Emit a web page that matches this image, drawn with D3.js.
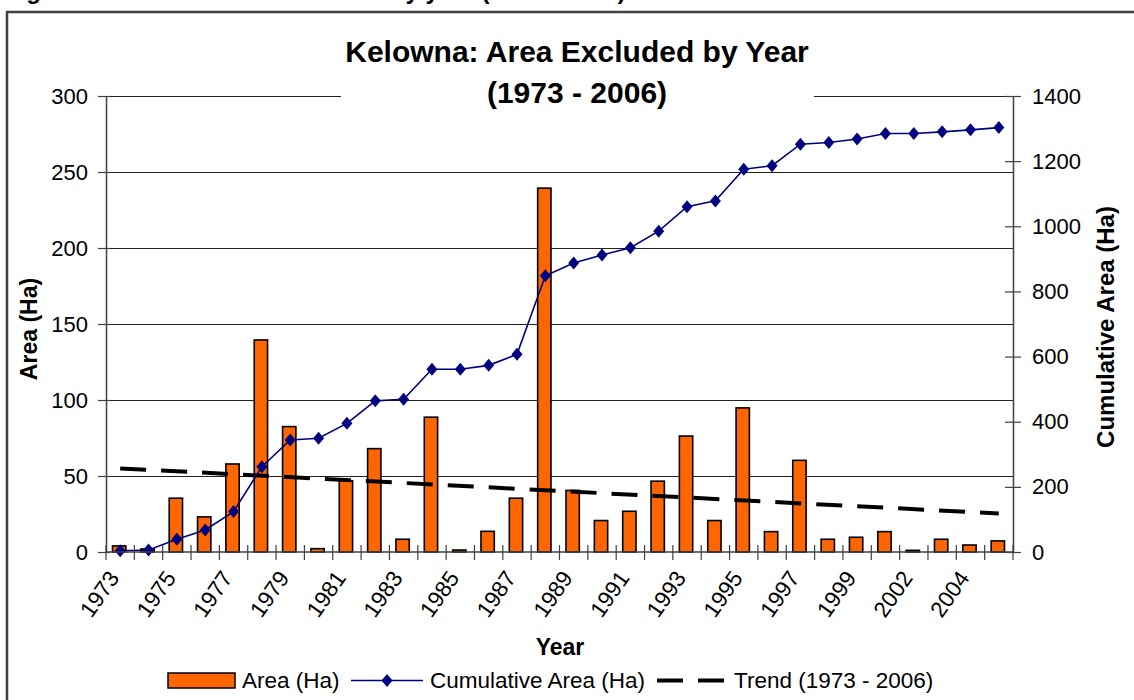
<!DOCTYPE html>
<html lang="en">
<head>
  <meta charset="UTF-8">
  <title>Kelowna: Area Excluded by Year</title>
  <script src="https://d3js.org/d3.v7.min.js"></script>
  <style>
    html, body { margin: 0; padding: 0; background: #fff; overflow: hidden; }
    svg text { font-family: "Liberation Sans", Arial, sans-serif; fill: #000; }
  </style>
</head>
<body>
  <div id="chart"></div>
  <script>
    // chart data
    const years = ["1973","1974","1975","1976","1977","1978","1979","1980","1981","1982",
                   "1983","1984","1985","1986","1987","1988","1989","1990","1991","1992",
                   "1993","1994","1995","1996","1997","1998","1999","2001","2002","2003",
                   "2004","2006"];
    const areaHa = [4, 2, 35.4, 23.1, 57.9, 139.5, 82.5, 2.2, 46.9, 68,
                    8.4, 88.7, 1.3, 13.6, 35.4, 239.4, 40.5, 20.7, 26.8, 46.6,
                    76.3, 20.7, 94.8, 13.4, 60.3, 8.4, 9.7, 13.4, 1.1, 8.4,
                    4.6, 7.3];
    const cumulativeHa = [4, 6, 39, 67.5, 124, 262, 344, 349, 395, 464,
                          469, 561, 561, 573, 607, 848, 887, 912, 934, 985,
                          1060, 1078, 1175, 1186, 1252, 1257, 1268, 1285, 1285, 1290,
                          1296, 1303];
    // trend line end points (first and last year)
    const trendYears = ["1973", "2006"];
    const trendHa = [55, 25.3];
    const leftTicks = [0, 50, 100, 150, 200, 250, 300];
    const rightTicks = [0, 200, 400, 600, 800, 1000, 1200, 1400];

    const width = 1134, height = 700;
    const plot = { left: 106, right: 1013, top: 96, bottom: 552 };

    const svg = d3.select("#chart").append("svg")
      .attr("width", width)
      .attr("height", height);

    // caption of the page, cut off by the top edge as in the figure
    svg.append("text")
      .attr("x", 5).attr("y", -1)
      .attr("font-size", "24px").attr("font-weight", "bold")
      .text("Figure 5: Kelowna Area Excluded by year (1973 - 2006)");

    // outer frame
    svg.append("rect")
      .attr("x", 7).attr("y", 12)
      .attr("width", 1200).attr("height", 800)
      .attr("fill", "none")
      .attr("stroke", "#404040")
      .attr("stroke-width", 2.5);

    const x = d3.scaleBand()
      .domain(years)
      .range([plot.left, plot.right]);

    const yLeft = d3.scaleLinear().domain([0, 300]).range([plot.bottom, plot.top]);
    const yRight = d3.scaleLinear().domain([0, 1400]).range([plot.bottom, plot.top]);

    // gridlines
    svg.append("g")
      .selectAll("line")
      .data(leftTicks.filter(d => d > 0))
      .join("line")
      .attr("x1", plot.left).attr("x2", plot.right)
      .attr("y1", d => yLeft(d) + 0.5).attr("y2", d => yLeft(d) + 0.5)
      .attr("stroke", "#222")
      .attr("stroke-width", 1);

    // title (white box hides the top gridline)
    svg.append("rect")
      .attr("x", 341).attr("y", 26)
      .attr("width", 473).attr("height", 86)
      .attr("fill", "#fff");
    svg.append("text")
      .attr("x", 577).attr("y", 62)
      .attr("text-anchor", "middle")
      .attr("font-size", "30px").attr("font-weight", "bold")
      .text("Kelowna: Area Excluded by Year");
    svg.append("text")
      .attr("x", 577).attr("y", 103)
      .attr("text-anchor", "middle")
      .attr("font-size", "30px").attr("font-weight", "bold")
      .text("(1973 - 2006)");

    // bars
    const barW = x.bandwidth() * 0.47;
    svg.append("g")
      .selectAll("rect")
      .data(areaHa)
      .join("rect")
      .attr("x", (d, i) => x(years[i]) + x.bandwidth() / 2 - barW / 2 - 1)
      .attr("y", d => yLeft(d))
      .attr("width", barW)
      .attr("height", d => yLeft(0) - yLeft(d))
      .attr("fill", "#ff6600")
      .attr("stroke", "#000")
      .attr("stroke-width", 1.6);

    // trend
    svg.append("path")
      .datum(trendHa)
      .attr("d", d3.line()
        .x((d, i) => i === 0 ? x(years[0]) + x.bandwidth() / 2 : x(years[years.length - 1]) + x.bandwidth() / 2)
        .y(d => yLeft(d)))
      .attr("fill", "none")
      .attr("stroke", "#000")
      .attr("stroke-width", 4)
      .attr("stroke-dasharray", "26,15");

    // cumulative line
    const diamond = "M0,-6.5L5.5,0L0,6.5L-5.5,0Z";
    svg.append("path")
      .datum(cumulativeHa)
      .attr("d", d3.line()
        .x((d, i) => x(years[i]) + x.bandwidth() / 2)
        .y(d => yRight(d)))
      .attr("fill", "none")
      .attr("stroke", "#000080")
      .attr("stroke-width", 1.6);
    svg.append("g")
      .selectAll("path")
      .data(cumulativeHa)
      .join("path")
      .attr("d", diamond)
      .attr("transform", (d, i) => `translate(${x(years[i]) + x.bandwidth() / 2},${yRight(d)})`)
      .attr("fill", "#000080");

    // axes
    const axisColor = "#404040";
    const leftAxis = svg.append("g")
      .attr("transform", `translate(${plot.left},0)`)
      .call(d3.axisLeft(yLeft).tickValues(leftTicks).tickFormat(d3.format("d"))
        .tickSizeInner(8).tickSizeOuter(0).tickPadding(10));
    const rightAxis = svg.append("g")
      .attr("transform", `translate(${plot.right},0)`)
      .call(d3.axisRight(yRight).tickValues(rightTicks).tickFormat(d3.format("d"))
        .tickSizeInner(8).tickSizeOuter(0).tickPadding(11));
    [leftAxis, rightAxis].forEach(g => {
      g.select(".domain").attr("stroke", axisColor).attr("stroke-width", 1.5);
      g.selectAll(".tick line").attr("stroke", axisColor).attr("stroke-width", 1.2);
      g.selectAll(".tick text")
        .attr("font-size", "22px")
        .attr("font-family", "'Liberation Sans', Arial, sans-serif")
        .attr("fill", "#000");
    });
    // ticks cross the axis lines
    leftAxis.selectAll(".tick line").attr("x1", 4);
    rightAxis.selectAll(".tick line").attr("x1", -8);

    const bottomAxis = svg.append("g")
      .attr("transform", `translate(0,${plot.bottom})`);
    bottomAxis.append("line")
      .attr("x1", plot.left).attr("x2", plot.right)
      .attr("stroke", axisColor).attr("stroke-width", 1.5);
    bottomAxis.selectAll(".xtick")
      .data(years.concat([null]))
      .join("line")
      .attr("class", "xtick")
      .attr("x1", (d, i) => i < years.length ? x(d) : plot.right)
      .attr("x2", (d, i) => i < years.length ? x(d) : plot.right)
      .attr("y1", -7).attr("y2", 8)
      .attr("stroke", axisColor).attr("stroke-width", 1.2);
    bottomAxis.selectAll(".xlabel")
      .data(years.filter((d, i) => i % 2 === 0))
      .join("text")
      .attr("class", "xlabel")
      .attr("transform", d => `translate(${x(d) + x.bandwidth() / 2},${26}) rotate(-55)`)
      .attr("text-anchor", "end")
      .attr("font-size", "22.5px")
      .text(d => d);

    // axis titles
    svg.append("text")
      .attr("x", 560).attr("y", 655)
      .attr("text-anchor", "middle")
      .attr("font-size", "23px").attr("font-weight", "bold")
      .text("Year");
    svg.append("text")
      .attr("transform", "translate(37,329) rotate(-90)")
      .attr("text-anchor", "middle")
      .attr("font-size", "23px").attr("font-weight", "bold")
      .text("Area (Ha)");
    svg.append("text")
      .attr("transform", "translate(1114,327) rotate(-90)")
      .attr("text-anchor", "middle")
      .attr("font-size", "24px").attr("font-weight", "bold")
      .text("Cumulative Area (Ha)");

    // legend
    const legend = svg.append("g");
    legend.append("rect")
      .attr("x", 168).attr("y", 673)
      .attr("width", 67).attr("height", 15)
      .attr("fill", "#ff6600").attr("stroke", "#000").attr("stroke-width", 1.5);
    legend.append("text")
      .attr("x", 242).attr("y", 688)
      .attr("font-size", "22.5px")
      .text("Area (Ha)");
    legend.append("line")
      .attr("x1", 351).attr("x2", 423).attr("y1", 680.5).attr("y2", 680.5)
      .attr("stroke", "#000080").attr("stroke-width", 1.6);
    legend.append("path")
      .attr("d", diamond)
      .attr("transform", "translate(387,680.5)")
      .attr("fill", "#000080");
    legend.append("text")
      .attr("x", 430).attr("y", 688)
      .attr("font-size", "22.5px")
      .text("Cumulative Area (Ha)");
    legend.append("line")
      .attr("x1", 657).attr("x2", 725).attr("y1", 680.5).attr("y2", 680.5)
      .attr("stroke", "#000").attr("stroke-width", 4)
      .attr("stroke-dasharray", "26,15");
    legend.append("text")
      .attr("x", 734).attr("y", 688)
      .attr("font-size", "22.5px")
      .text("Trend (1973 - 2006)");
  </script>
</body>
</html>
